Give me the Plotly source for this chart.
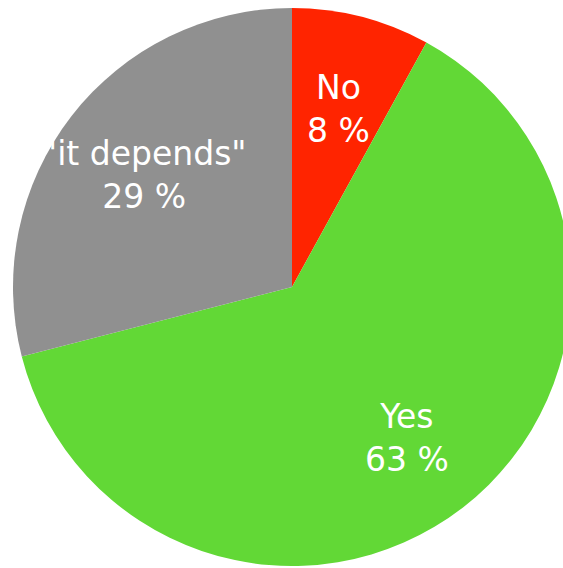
import math
import plotly.graph_objects as go

labels = ["No", "Yes", "\"it depends\""]
values = [8, 63, 29]
colors = ["#FF2400", "#62D836", "#909090"]

FONT = "DejaVu Sans"
FONT_SIZE = 33

fig = go.Figure(go.Pie(
    labels=labels,
    values=values,
    sort=False,
    direction="clockwise",
    rotation=0,
    marker=dict(colors=colors, line=dict(width=0)),
    textinfo="none",
    hoverinfo="label+percent",
    showlegend=False,
    domain=dict(x=[0, 1], y=[0, 1]),
))

# label positions derived from the slice mid-angles
W, H = 586, 574
ml, mr, mt, mb = 13, 15, 8, 8
pw, ph = W - ml - mr, H - mt - mb
R = min(pw, ph) / 2
total = sum(values)
cum = 0
annotations = []
for lab, v in zip(labels, values):
    mid = (cum + v / 2) / total * 2 * math.pi
    cum += v
    r = 0.67 * R
    dx = r * math.sin(mid)
    dy = r * math.cos(mid)
    pct = round(v / total * 100)
    annotations.append(dict(
        x=0.5 + dx / pw, y=0.5 + dy / ph, xref="paper", yref="paper",
        text=f"{lab}<br>{pct} %", showarrow=False,
        font=dict(family=FONT, size=FONT_SIZE, color="white"),
        xanchor="center", yanchor="middle", align="center", yshift=-3,
    ))

fig.update_layout(
    width=W, height=H,
    margin=dict(l=ml, r=mr, t=mt, b=mb),
    paper_bgcolor="white",
    plot_bgcolor="white",
    annotations=annotations,
)

fig.write_html(
    "out.html",
    config={"displayModeBar": False},
    post_script="document.body.style.margin='0';document.body.style.overflow='hidden';document.documentElement.style.overflow='hidden';",
)
